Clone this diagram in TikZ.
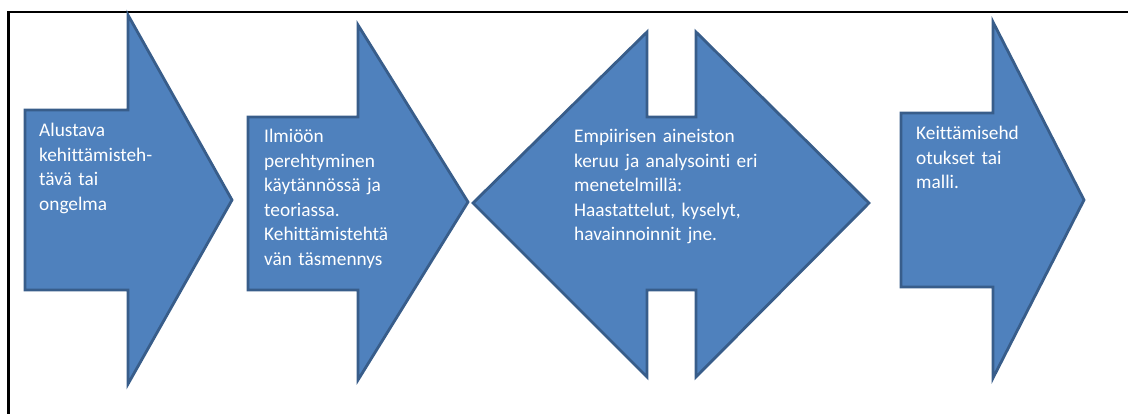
\documentclass[tikz,border=0pt]{standalone}
\usepackage{fontspec}
\setmainfont{Carlito}[Ligatures=NoCommon]
\definecolor{arrowfill}{HTML}{4F81BD}
\definecolor{arrowline}{HTML}{385D8A}
\tikzset{
  bigarrow/.style={fill=arrowfill, draw=arrowline, line width=2.8pt, line join=miter},
  label/.style={anchor=base west, inner sep=0pt, text width=220pt, align=left,
    text=white, font=\fontsize{19.3}{24.5}\selectfont},
  frameline/.style={draw=black, line width=2.6pt}
}
\begin{document}
\begin{tikzpicture}[x=1pt,y=-1pt]
\useasboundingbox (0,0) rectangle (1128,414);
% frame
\coordinate (ftr) at (1128,12);
\coordinate (ftl) at (8.5,12);
\coordinate (fbl) at (8.5,414);
\draw[frameline] (ftr) -- (ftl) -- (fbl);
% arrow 1
\draw[bigarrow] (25,110) -- (128,110) -- (128,15) -- (232,200) -- (128,384) -- (128,290) -- (25,290) -- cycle;
% arrow 2
\draw[bigarrow] (248,117) -- (358,117) -- (358,25) -- (468,202) -- (358,380) -- (358,290) -- (248,290) -- cycle;
% double arrow
\draw[bigarrow] (473,203) -- (647,32) -- (647,117) -- (696,117) -- (696,32) -- (869,203) -- (696,377) -- (696,290) -- (647,290) -- (647,377) -- cycle;
% arrow 4
\draw[bigarrow] (901,113) -- (993,113) -- (993,22) -- (1084,200) -- (993,378) -- (993,287) -- (901,287) -- cycle;
% texts
\node[label] (t1) at (39,137) {Alustava\\kehittämisteh-\\tävä tai\\ongelma};
\node[label] (t2) at (264,143) {Ilmiöön\\perehtyminen\\käytännössä ja\\teoriassa.\\Kehittämistehtä\\vän täsmennys};
\node[label] (t3) at (574,143) {Empiirisen aineiston\\keruu ja analysointi eri\\menetelmillä:\\Haastattelut, kyselyt,\\havainnoinnit jne.};
\node[label] (t4) at (916,140) {Keittämisehd\\otukset tai\\malli.};
\end{tikzpicture}
\end{document}
